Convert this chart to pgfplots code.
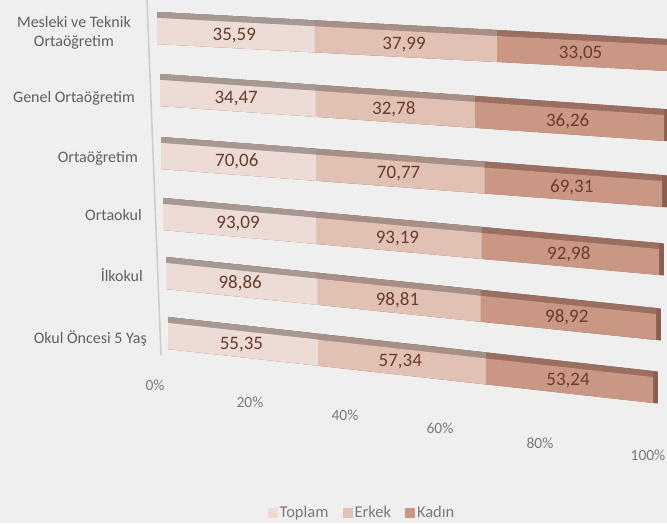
\documentclass[border=0pt]{standalone}
\usepackage{fontspec}
\setmainfont{Carlito}
\usepackage{pgfplots}
\usepackage{pgfplotstable}
\pgfplotsset{compat=1.18}
\definecolor{bg}{HTML}{EFEFEF}
\definecolor{cT}{HTML}{EDDCD5}
\definecolor{cE}{HTML}{E1C1B4}
\definecolor{cK}{HTML}{C99784}
\definecolor{tT}{HTML}{A69993}
\definecolor{tE}{HTML}{A68F86}
\definecolor{tK}{HTML}{9A6E60}
\definecolor{sK}{HTML}{8C5E50}
\definecolor{lbl}{HTML}{6B3B2C}
\definecolor{txt}{HTML}{606060}
\definecolor{lgd}{HTML}{7A7A7A}
\definecolor{wall}{HTML}{CDCDCD}
\pgfplotsset{persp/.style={x coord trafo/.code={\pgfmathparse{##1*(1-0.0011*(100-##1))}}}}
\pgfplotstableread{
pos toplam erkek kadin
5 35.59 37.99 33.05
4 34.47 32.78 36.26
3 70.06 70.77 69.31
2 93.09 93.19 92.98
1 98.86 98.81 98.92
0 55.35 57.34 53.24
}\data
\begin{document}
\begin{tikzpicture}
\useasboundingbox (0,0) rectangle (667pt,523pt);
\fill[bg] (0,0) rectangle (667pt,523pt);
% frame: wall line, category labels, percentage labels, legend
\begin{axis}[
  at={(147pt,0pt)}, anchor=south west,
  x=4.93pt, y=61pt,
  xmin=-1.62, xmax=103.86, ymin=-3.033, ymax=5.541,
  axis line style={draw=none}, major tick length=0pt,
  xtick={0,19.27,38.54,57.81,78.09,100},
  xticklabels={0\%,20\%,40\%,60\%,80\%,100\%},
  xticklabel style={anchor=center, font=\fontsize{15.5}{18}\selectfont, text=lgd, yshift={{138,121,108,95,80,68}[\ticknum]}},
  ytick={0,1.033,2.016,2.951,3.934,5},
  yticklabels={Okul Öncesi 5 Yaş, İlkokul, Ortaokul, Ortaöğretim, Genel Ortaöğretim, {Mesleki ve Teknik\\Ortaöğretim}},
  yticklabel style={align=center, anchor=east, inner xsep=0pt, font=\fontsize{16}{19}\selectfont, text=txt, xshift={{0,-4,-5,-9,-12,-16}[\ticknum]}},
  /pgf/number format/assume math mode=true,
  clip=false,
  legend style={at={(0.4135,0.0191)}, anchor=center, draw=none, fill=none, font=\fontsize{16.5}{19}\selectfont, text=lgd, legend columns=3, /tikz/every even column/.append style={column sep=12pt}},
  legend image code/.code={\fill[#1, draw=none] (0pt,-4.5pt) rectangle (10pt,5.5pt);},
]
\addplot[forget plot, wall, line width=1.6pt] coordinates {(-1.62,5.541) (1.22,-0.279)};
\addlegendimage{fill=cT}\addlegendentry{Toplam}
\addlegendimage{fill=cE}\addlegendentry{Erkek}
\addlegendimage{fill=cK}\addlegendentry{Kadın}
\end{axis}
% one slanted axis per bar (perspective)
\foreach \rr/\Lx/\Ly/\Rx/\Ry in {5/157/31/667/58, 4/160/93/664/128, 3/161/156/662/194, 2/163/217/659/262, 1/166/276/656/327, 0/168/336/653/390}{
  \pgfmathsetmacro\sx{(\Rx-\Lx)/500}
  \pgfmathsetmacro\sb{-(\Ry-\Ly)/500}
  \pgfmathsetmacro\isx{1/\sx}
  \pgfmathsetmacro\isb{-\sb/\sx}
  \pgfmathsetmacro\ty{523-\Ly}
  \tikzset{unskew/.style={cm={\isx,\isb,0,1,(0pt,0pt)}}}
  \begin{scope}[cm={\sx,\sb,0,1,(\Lx pt,\ty pt)}]
  \begin{axis}[
    at={(0pt,-30pt)}, anchor=south west,
    x=5pt, y=1pt, xmin=0, xmax=100, ymin=-30, ymax=30,
    persp,
    hide axis, clip=false,
    /pgf/number format/assume math mode=true,
    every axis plot/.append style={forget plot},
  ]
  % side face (right end)
  \addplot[xbar, bar width=32, bar shift=3, fill=sK, draw=none, restrict expr to domain={\thisrow{pos}}{\rr:\rr}] table[y expr=0, x expr={0.9+100*(\thisrow{toplam}+\thisrow{erkek}+\thisrow{kadin})/(\thisrow{toplam}+\thisrow{erkek}+\thisrow{kadin})}] \data;
  % top faces
  \addplot[xbar, bar width=6, bar shift=16, fill=tK, draw=none, restrict expr to domain={\thisrow{pos}}{\rr:\rr}] table[y expr=0, x expr={100*(\thisrow{toplam}+\thisrow{erkek}+\thisrow{kadin})/(\thisrow{toplam}+\thisrow{erkek}+\thisrow{kadin})}] \data;
  \addplot[xbar, bar width=6, bar shift=16, fill=tE, draw=none, restrict expr to domain={\thisrow{pos}}{\rr:\rr}] table[y expr=0, x expr={100*(\thisrow{toplam}+\thisrow{erkek})/(\thisrow{toplam}+\thisrow{erkek}+\thisrow{kadin})}] \data;
  \addplot[xbar, bar width=6, bar shift=16, fill=tT, draw=none, restrict expr to domain={\thisrow{pos}}{\rr:\rr}] table[y expr=0, x expr={100*\thisrow{toplam}/(\thisrow{toplam}+\thisrow{erkek}+\thisrow{kadin})}] \data;
  % front faces
  \addplot[xbar, bar width=26, bar shift=0, fill=cK, draw=none, restrict expr to domain={\thisrow{pos}}{\rr:\rr}] table[y expr=0, x expr={100*(\thisrow{toplam}+\thisrow{erkek}+\thisrow{kadin})/(\thisrow{toplam}+\thisrow{erkek}+\thisrow{kadin})}] \data;
  \addplot[xbar, bar width=26, bar shift=0, fill=cE, draw=none, restrict expr to domain={\thisrow{pos}}{\rr:\rr}] table[y expr=0, x expr={100*(\thisrow{toplam}+\thisrow{erkek})/(\thisrow{toplam}+\thisrow{erkek}+\thisrow{kadin})}] \data;
  \addplot[xbar, bar width=26, bar shift=0, fill=cT, draw=none, restrict expr to domain={\thisrow{pos}}{\rr:\rr}] table[y expr=0, x expr={100*\thisrow{toplam}/(\thisrow{toplam}+\thisrow{erkek}+\thisrow{kadin})}] \data;
  % value labels
  \pgfplotsset{vl/.style={draw=none, mark=none, point meta=explicit,
    restrict expr to domain={\thisrow{pos}}{\rr:\rr},
    nodes near coords={\pgfmathprintnumber[fixed, fixed zerofill, precision=2, use comma, assume math mode=true]{\pgfplotspointmeta}},
    every node near coord/.append style={unskew, anchor=center, text=lbl, font=\fontsize{19}{21}\selectfont}}}
  \addplot[vl] table[y expr=0, meta=toplam, x expr={100*(0.5*\thisrow{toplam})/(\thisrow{toplam}+\thisrow{erkek}+\thisrow{kadin})}] \data;
  \addplot[vl] table[y expr=0, meta=erkek, x expr={100*(\thisrow{toplam}+0.5*\thisrow{erkek})/(\thisrow{toplam}+\thisrow{erkek}+\thisrow{kadin})}] \data;
  \addplot[vl] table[y expr=0, meta=kadin, x expr={100*(\thisrow{toplam}+\thisrow{erkek}+0.5*\thisrow{kadin})/(\thisrow{toplam}+\thisrow{erkek}+\thisrow{kadin})}] \data;
  \end{axis}
  \end{scope}
}
\end{tikzpicture}
\end{document}
